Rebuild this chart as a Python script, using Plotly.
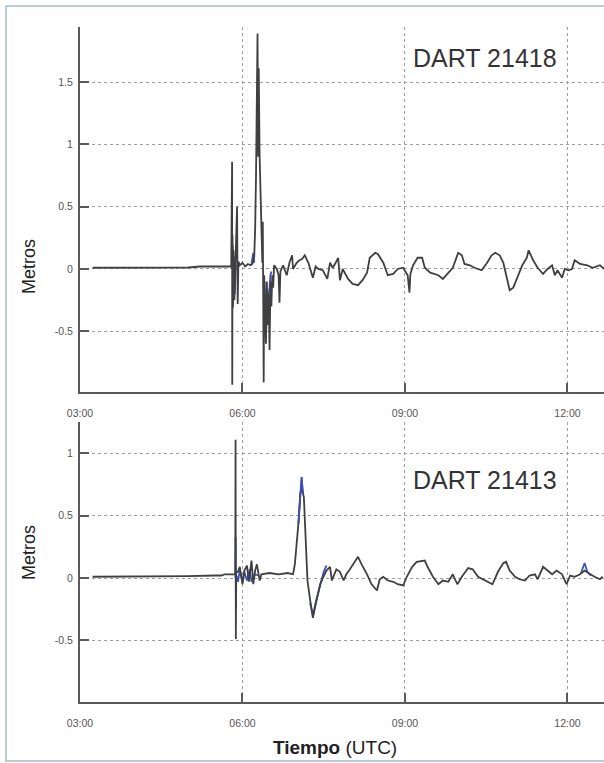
import plotly.graph_objects as go

DAY = "2011-03-11 "

# ---------------- DART 21418 (top panel) ----------------
t1_black = ["03:14", "03:40", "04:10", "04:30", "05:00", "05:13", "05:30", "05:46", "05:47:30",
            "05:48:30", "05:48:40", "05:49:00", "05:49:30", "05:50:00", "05:51:00", "05:52:00",
            "05:54:00", "05:54:40", "05:55:30", "05:57", "06:00", "06:03", "06:06", "06:09", "06:11",
            "06:13", "06:14", "06:15", "06:16", "06:16:40", "06:17:20", "06:18", "06:19", "06:20",
            "06:21", "06:22", "06:22:30", "06:23:30", "06:24", "06:25", "06:26", "06:27", "06:28",
            "06:29", "06:30", "06:31", "06:32", "06:33", "06:34", "06:35", "06:38", "06:40", "06:41",
            "06:42", "06:45", "06:49", "06:52", "06:55", "06:56", "07:00", "07:03", "07:06", "07:09",
            "07:13", "07:18", "07:21", "07:24", "07:29", "07:34", "07:37", "07:40", "07:44", "07:46",
            "07:48", "07:51", "07:57", "08:02", "08:08", "08:13", "08:18", "08:21", "08:27", "08:30",
            "08:36", "08:41", "08:47", "08:52", "08:58", "09:03", "09:05", "09:06", "09:09", "09:14",
            "09:19", "09:22", "09:28", "09:33", "09:37", "09:42", "09:48", "09:53", "09:59", "10:03",
            "10:06", "10:12", "10:17", "10:25", "10:31", "10:36", "10:40", "10:45", "10:49", "10:53",
            "10:56", "11:00", "11:04", "11:10", "11:15", "11:17", "11:22", "11:27", "11:33", "11:38",
            "11:43", "11:46", "11:49", "11:54", "11:57", "12:01", "12:05", "12:08", "12:14", "12:22",
            "12:28", "12:36", "12:41"]
v1_black = [0.01, 0.01, 0.015, 0.01, 0.012, 0.02, 0.02, 0.025, 0.02,
            0.86, -0.93, 0.27, -0.31, 0.15, -0.25, 0.05,
            0.5, -0.28, 0.06, 0.03, 0.05, 0.02, 0.04, 0.03, 0.04,
            0.1, 0.31, 0.75, 1.33, 1.89, 0.9, 1.61, 0.9, 0.6,
            0.38, 0.05, 0.38, -0.91, -0.05, -0.3, -0.6, -0.1, -0.45,
            -0.2, -0.65, -0.1, -0.3, -0.05, -0.15, 0.03, 0.0, -0.05, -0.27,
            -0.02, 0.03, -0.05, 0.05, 0.11, 0.0, 0.05, 0.07, 0.08, 0.11,
            0.05, -0.07, 0.02, 0.0, -0.01, -0.08, 0.05, 0.01, 0.06, 0.09,
            -0.09, 0.0, -0.08, -0.12, -0.13, -0.09, -0.03, 0.09, 0.13, 0.12,
            0.05, -0.05, -0.04, 0.0, 0.01, -0.05, -0.19, -0.04, 0.03, 0.09,
            0.09, 0.01, -0.03, -0.04, -0.05, -0.08, -0.03, 0.01, 0.13, 0.11,
            0.04, 0.03, 0.01, -0.01, 0.05, 0.11, 0.13, 0.11, 0.05, -0.08,
            -0.17, -0.15, -0.08, 0.03, 0.09, 0.15, 0.07, 0.01, -0.04, 0.0,
            0.03, -0.05, -0.01, -0.07, 0.0, -0.01, 0.0, 0.07, 0.04, 0.03,
            0.01, 0.03, 0.0]

t1_blue = ["05:48:50", "05:49:10", "05:49:40", "05:50:30", "05:51:30", "05:52:30", None,
           "06:10", "06:12", "06:13", None,
           "06:24:30", "06:25", "06:26", "06:27", "06:28", "06:29", "06:30", "06:31", "06:32"]
v1_blue = [0.0, 0.19, -0.19, 0.1, -0.2, 0.03, None,
           0.04, 0.13, 0.05, None,
           -0.1, -0.35, -0.55, -0.3, -0.45, -0.2, -0.15, -0.05, -0.02]

# ---------------- DART 21413 (bottom panel) ----------------
t2_black = ["03:14", "04:00", "04:30", "05:00", "05:30", "05:37", "05:40", "05:52:00",
            "05:52:20", "05:52:40", "05:53:00", "05:55", "05:57", "06:00", "06:02", "06:05", "06:07",
            "06:10", "06:12", "06:14", "06:16", "06:19", "06:21", "06:30", "06:40", "06:50", "06:56",
            "06:58", "07:02", "07:04", "07:05:30", "07:08", "07:10", "07:12", "07:15", "07:18",
            "07:22", "07:26", "07:29", "07:33", "07:37", "07:39", "07:44", "07:48", "07:52", "07:55",
            "07:59", "08:05", "08:08", "08:12", "08:18", "08:23", "08:27", "08:29", "08:32", "08:36",
            "08:41", "08:47", "08:52", "08:58", "09:02", "09:08", "09:13", "09:19", "09:22", "09:25",
            "09:31", "09:37", "09:42", "09:48", "09:53", "09:58", "10:03", "10:10", "10:15", "10:21",
            "10:29", "10:37", "10:43", "10:49", "10:52", "10:56", "11:02", "11:07", "11:13", "11:18",
            "11:24", "11:27", "11:33", "11:38", "11:43", "11:48", "11:54", "11:59", "12:03", "12:08",
            "12:14", "12:19", "12:25", "12:30", "12:36", "12:39"]
v2_black = [0.01, 0.01, 0.012, 0.015, 0.02, 0.02, 0.03, 0.03,
            1.11, -0.49, 0.05, 0.05, 0.09, -0.05, 0.06, 0.1, -0.03,
            0.14, -0.05, 0.06, 0.11, -0.02, 0.03, 0.04, 0.03, 0.04, 0.03,
            0.11, 0.44, 0.68, 0.72, 0.65, 0.35, -0.02, -0.18, -0.32,
            -0.18, -0.05, 0.0, 0.06, 0.09, -0.02, 0.07, 0.05, -0.02, 0.03,
            0.07, 0.14, 0.17, 0.11, 0.03, -0.05, -0.09, -0.1, -0.01, 0.01,
            -0.02, -0.03, -0.05, -0.06, 0.01, 0.09, 0.13, 0.14, 0.14, 0.09,
            0.01, -0.05, -0.02, -0.03, 0.03, -0.05, 0.01, 0.08, 0.07, 0.01,
            -0.02, -0.05, 0.05, 0.12, 0.13, 0.06, 0.01, -0.01, -0.02, 0.02,
            0.03, -0.01, 0.09, 0.06, 0.03, 0.06, 0.03, -0.05, 0.02, 0.01,
            0.03, 0.06, 0.03, 0.01, -0.01, 0.01]

t2_blue = ["05:52:10", "05:52:25", "05:52:45", "05:53:10", "05:55", "05:57", "06:00", "06:02",
           "06:05", "06:08", "06:10", "06:14", "06:18", None,
           "07:02", "07:04", "07:05:30", "07:07", None,
           "07:15", "07:18", "07:21", "07:24", "07:27", "07:30", "07:33", None,
           "12:15", "12:19", "12:22", "12:26"]
v2_blue = [0.0, 0.33, -0.24, 0.02, -0.03, 0.06, -0.03, 0.05,
           -0.02, 0.07, -0.03, 0.03, 0.02, None,
           0.44, 0.7, 0.81, 0.68, None,
           -0.2, -0.3, -0.2, -0.12, -0.03, 0.05, 0.1, None,
           0.04, 0.12, 0.05, 0.02]

x_tickvals = ["03:00", "06:00", "09:00", "12:00"]
y1_ticks = [-0.5, 0, 0.5, 1, 1.5]
y1_labels = ["-0.5", "0", "0.5", "1", "1.5"]
y2_ticks = [-0.5, 0, 0.5, 1]
y2_labels = ["-0.5", "0", "0.5", "1"]
titles = ["DART 21418", "DART 21413"]


def ts(lst):
    out = []
    for s in lst:
        if s is None:
            out.append(None)
        else:
            out.append(DAY + (s if s.count(":") == 2 else s + ":00"))
    return out


BLACK = "#404040"
BLUE = "#3f50b8"

fig = go.Figure()
fig.add_trace(go.Scatter(x=ts(t1_blue), y=v1_blue, mode="lines", line=dict(color=BLUE, width=1.8),
                         xaxis="x", yaxis="y", showlegend=False, connectgaps=False))
fig.add_trace(go.Scatter(x=ts(t1_black), y=v1_black, mode="lines", line=dict(color=BLACK, width=1.8),
                         xaxis="x", yaxis="y", showlegend=False))
fig.add_trace(go.Scatter(x=ts(t2_blue), y=v2_blue, mode="lines", line=dict(color=BLUE, width=1.8),
                         xaxis="x2", yaxis="y2", showlegend=False, connectgaps=False))
fig.add_trace(go.Scatter(x=ts(t2_black), y=v2_black, mode="lines", line=dict(color=BLACK, width=1.8),
                         xaxis="x2", yaxis="y2", showlegend=False))
# blue peak tip drawn on top where it exceeds the black trace
fig.add_trace(go.Scatter(x=ts(t2_blue[14:18]), y=v2_blue[14:18], mode="lines",
                         line=dict(color=BLUE, width=1.5), xaxis="x2", yaxis="y2", showlegend=False))

AX = "#5a5a5a"
common = dict(showline=True, linecolor=AX, linewidth=2, ticks="inside", ticklen=9, tickwidth=1.5,
              tickcolor=AX, showgrid=True, gridcolor="#a0a0a0", griddash="dot", gridwidth=1,
              zeroline=False, mirror=False,
              tickfont=dict(family="Liberation Sans, Arial, sans-serif", size=10.5, color="#555"))
xcommon = dict(common, type="date", range=[DAY + "03:00:00", DAY + "12:40:30"],
               tickvals=ts(x_tickvals), ticktext=x_tickvals, ticklabelstandoff=10)

fig.update_layout(
    width=604, height=763, autosize=False,
    margin=dict(l=80, r=0, t=27, b=61),
    paper_bgcolor="white", plot_bgcolor="white",
    xaxis=dict(xcommon, anchor="y", domain=[0, 1]),
    xaxis2=dict(xcommon, anchor="y2", domain=[0, 1]),
    yaxis=dict(common, domain=[0.4593, 1.0], range=[-0.987, 1.942], tickvals=y1_ticks,
               ticktext=y1_labels, ticklabelstandoff=3),
    yaxis2=dict(common, domain=[0.0, 0.4148], range=[-0.995, 1.252], tickvals=y2_ticks,
                ticktext=y2_labels, ticklabelstandoff=3),
    font=dict(family="Liberation Sans, Arial, sans-serif", color="#222"),
)

fig.add_shape(type="rect", xref="paper", yref="paper", x0=-0.1412, x1=1.2, y0=-0.0874, y1=1.0311,
              line=dict(color="#a9b8cd", width=1.5), fillcolor="rgba(0,0,0,0)", layer="above")

fig.add_annotation(text=titles[0], xref="paper", yref="paper", x=0.7729, y=0.9541, showarrow=False,
                   xanchor="center", yanchor="middle", font=dict(size=25, color="#333"))
fig.add_annotation(text=titles[1], xref="paper", yref="paper", x=0.7729, y=0.3289, showarrow=False,
                   xanchor="center", yanchor="middle", font=dict(size=25, color="#333"))
for yy in [0.6444, 0.2207]:
    fig.add_annotation(text="Metros", xref="paper", yref="paper", x=-0.0973, y=yy, showarrow=False,
                       textangle=-90, xanchor="center", yanchor="middle",
                       font=dict(size=18, color="#222"))
fig.add_annotation(text="<b>Tiempo</b> (UTC)", xref="paper", yref="paper", x=0.4866, y=-0.0667,
                   showarrow=False, xanchor="center", yanchor="middle",
                   font=dict(size=19, color="#222"))

fig.write_html("out.html", config={"displayModeBar": False},
               post_script="document.body.style.margin='0';document.body.style.overflow='hidden';")
